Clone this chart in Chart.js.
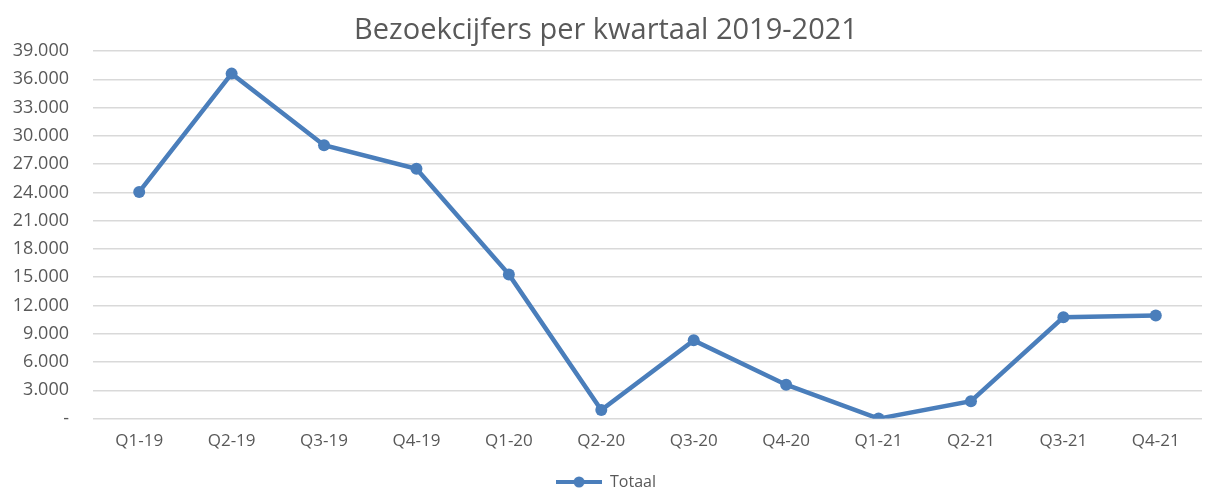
<!DOCTYPE html>
<html><head><meta charset="utf-8">
<script src="https://cdn.jsdelivr.net/npm/chart.js@4/dist/chart.umd.min.js"></script>
<style>html,body{margin:0;padding:0;background:#fff}#wrap{width:1208px;height:492px}</style>
</head><body><div id="wrap"><canvas id="c" width="1208" height="492"></canvas></div>
<script>
const categories = ["Q1-19","Q2-19","Q3-19","Q4-19","Q1-20","Q2-20","Q3-20","Q4-20","Q1-21","Q2-21","Q3-21","Q4-21"];
const totaal = [24050, 36600, 29000, 26500, 15300, 900, 8300, 3600, 0, 1850, 10750, 10950];
const seriesName = "Totaal";
const titleText = "Bezoekcijfers per kwartaal 2019-2021";

const blue = "#4A7EBB";
const grey = "#595959";
const FONT = "'Open Sans', 'Liberation Sans', sans-serif";

// legend marker: line with dot
const mk = document.createElement('canvas');
mk.width = 46; mk.height = 12;
const m = mk.getContext('2d');
m.strokeStyle = blue; m.lineWidth = 4;
m.beginPath(); m.moveTo(0,6); m.lineTo(46,6); m.stroke();
m.fillStyle = blue; m.beginPath(); m.arc(23,6,5.5,0,Math.PI*2); m.fill();

new Chart(document.getElementById('c'), {
  type: 'line',
  data: {
    labels: categories,
    datasets: [{
      label: seriesName,
      data: totaal,
      borderColor: blue,
      backgroundColor: blue,
      borderWidth: 4.5,
      pointRadius: 6,
      pointBackgroundColor: blue,
      pointBorderWidth: 0,
      pointStyle: 'circle',
      tension: 0
    }]
  },
  options: {
    responsive: false,
    animation: false,
    layout: { padding: { left: 10, right: 6, top: 6, bottom: -8 } },
    plugins: {
      title: {
        display: true, text: titleText, color: grey,
        font: { family: FONT, size: 29, weight: 'normal', lineHeight: 1 },
        padding: { top: 10, bottom: 6 }
      },
      legend: {
        position: 'bottom',
        title: { display: true, text: ' ', font: { size: 1, lineHeight: 1 }, padding: { top: 10, bottom: 0 } },
        labels: {
          usePointStyle: true,
          pointStyleWidth: 46,
          generateLabels: (chart) => [{
            text: seriesName, pointStyle: mk, fontColor: grey, strokeStyle: blue, fillStyle: blue, lineWidth: 0, datasetIndex: 0, hidden: false
          }],
          color: grey,
          font: { family: FONT, size: 16 },
          padding: 0
        }
      },
      tooltip: { enabled: false }
    },
    scales: {
      x: {
        offset: true,
        grid: { display: false, drawTicks: false },
        border: { display: false },
        ticks: {
          color: grey, padding: 12,
          font: { family: FONT, size: 17 },
          maxRotation: 0
        }
      },
      y: {
        min: 0, max: 39000,
        afterFit: (s) => { s.width = 83; },
        grid: { color: '#D9D9D9', lineWidth: 1.5, drawTicks: false },
        border: { display: false },
        ticks: {
          stepSize: 3000, color: grey, padding: 24,
          font: { family: FONT, size: 18, lineHeight: 1 },
          callback: (v) => v === 0 ? '-' : v.toLocaleString('nl-NL')
        }
      }
    }
  }
});
</script></body></html>
